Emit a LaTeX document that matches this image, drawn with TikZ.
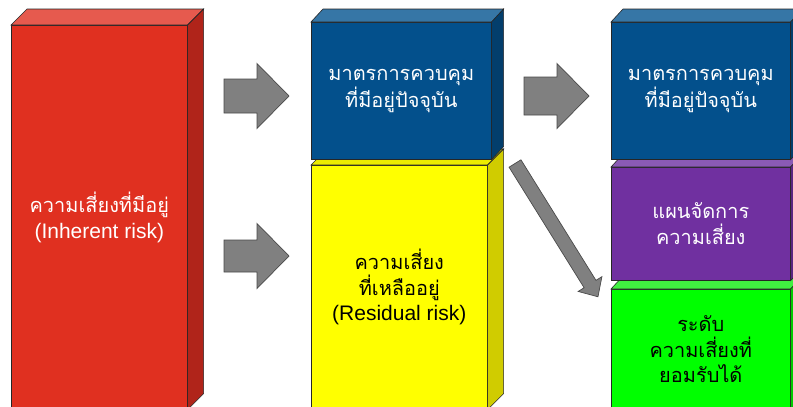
\documentclass[tikz,border=0pt]{standalone}
\usepackage{fontspec}
\setmainfont{Liberation Sans}
\newfontfamily\thaifont[Script=Thai,Scale=0.95]{Loma}
\usetikzlibrary{calc}
\definecolor{redF}{HTML}{E03020}
\definecolor{redT}{HTML}{E65A4E}
\definecolor{redS}{HTML}{B0241A}
\definecolor{blueF}{HTML}{03508C}
\definecolor{blueT}{HTML}{3676A6}
\definecolor{blueS}{HTML}{033E6C}
\definecolor{yelF}{HTML}{FFFF00}
\definecolor{yelT}{HTML}{ECEC00}
\definecolor{yelS}{HTML}{D0CC00}
\definecolor{purF}{HTML}{7030A0}
\definecolor{purT}{HTML}{8A5AB5}
\definecolor{purS}{HTML}{5A2680}
\definecolor{grnF}{HTML}{00FF00}
\definecolor{grnT}{HTML}{40F040}
\definecolor{grnS}{HTML}{00CC00}
\definecolor{arrF}{HTML}{808080}
\definecolor{arrD}{HTML}{4A4A4A}
\newcommand\cubeside[5]{%
  \draw[edge, fill=#4] (#1.north west) -- ++(#2,#3) -- ($(#1.north east)+(#2,#3)$) -- (#1.north east) -- cycle;
  \draw[edge, fill=#5] (#1.north east) -- ++(#2,#3) -- ($(#1.south east)+(#2,#3)$) -- (#1.south east) -- cycle;}
\newcommand\blockarrow[8]{% name x y angle L h shaft-half head-half
  \begin{scope}[shift={(#2,#3)}, rotate=#4]
    \draw[arrowshape] (0,-#7) -- ({#5-#6},-#7) -- ({#5-#6},-#8) -- (#5,0) coordinate (#1) -- ({#5-#6},#8) -- ({#5-#6},#7) -- (0,#7) -- cycle;
  \end{scope}}
\begin{document}
\begin{tikzpicture}[x=1pt,y=1pt,
  edge/.style={draw=black!85, line width=0.6pt, line join=miter},
  face/.style={edge, anchor=north west, inner sep=0pt, align=center,
    font=\fontsize{21}{25.5}\selectfont},
  arrowshape/.style={draw=arrD, fill=arrF, line width=0.7pt, line join=miter}]
\useasboundingbox (0,0) rectangle (793,-407);
\clip (0,0) rectangle (793,-407);
\fill[white] (0,0) rectangle (793,-407);
% left column
\node[face, fill=redF, text=white, minimum width=176pt, minimum height=384pt] (inh) at (11,-25)
  {{\thaifont ความเสี่ยงที่มีอยู่}\\(Inherent risk)};
\cubeside{inh}{16}{16}{redT}{redS}
% middle column
\node[face, fill=yelF, text=black, minimum width=176pt, minimum height=244pt] (res) at (311,-165)
  {{\thaifont ความเสี่ยง}\\{\thaifont ที่เหลืออยู่}\\(Residual risk)};
\cubeside{res}{16}{16}{yelT}{yelS}
\node[face, fill=blueF, text=white, minimum width=180pt, minimum height=137pt] (ctl) at (311,-22)
  {{\thaifont มาตรการควบคุม}\\{\thaifont ที่มีอยู่ปัจจุบัน}};
\cubeside{ctl}{12}{13}{blueT}{blueS}
% right column
\node[face, fill=grnF, text=black, minimum width=179pt, minimum height=120pt] (acc) at (611,-289)
  {{\thaifont ระดับ}\\{\thaifont ความเสี่ยงที่}\\{\thaifont ยอมรับได้}};
\cubeside{acc}{12}{13}{grnT}{grnS}
\node[face, fill=purF, text=white, minimum width=179pt, minimum height=113pt] (plan) at (611,-167)
  {{\thaifont แผนจัดการ}\\{\thaifont ความเสี่ยง}};
\cubeside{plan}{12}{13}{purT}{purS}
\node[face, fill=blueF, text=white, minimum width=179pt, minimum height=137pt] (ctl2) at (611,-22)
  {{\thaifont มาตรการควบคุม}\\{\thaifont ที่มีอยู่ปัจจุบัน}};
\cubeside{ctl2}{12}{13}{blueT}{blueS}
% arrows
\blockarrow{a1}{224}{-96}{0}{65}{32}{17}{32.5}
\blockarrow{a2}{224}{-256}{0}{65}{32}{16}{32.5}
\blockarrow{a3}{524}{-96}{0}{65}{32}{19}{32.5}
\blockarrow{a4}{515}{-163.5}{-58.1}{157}{15}{7}{14}
\end{tikzpicture}
\end{document}
